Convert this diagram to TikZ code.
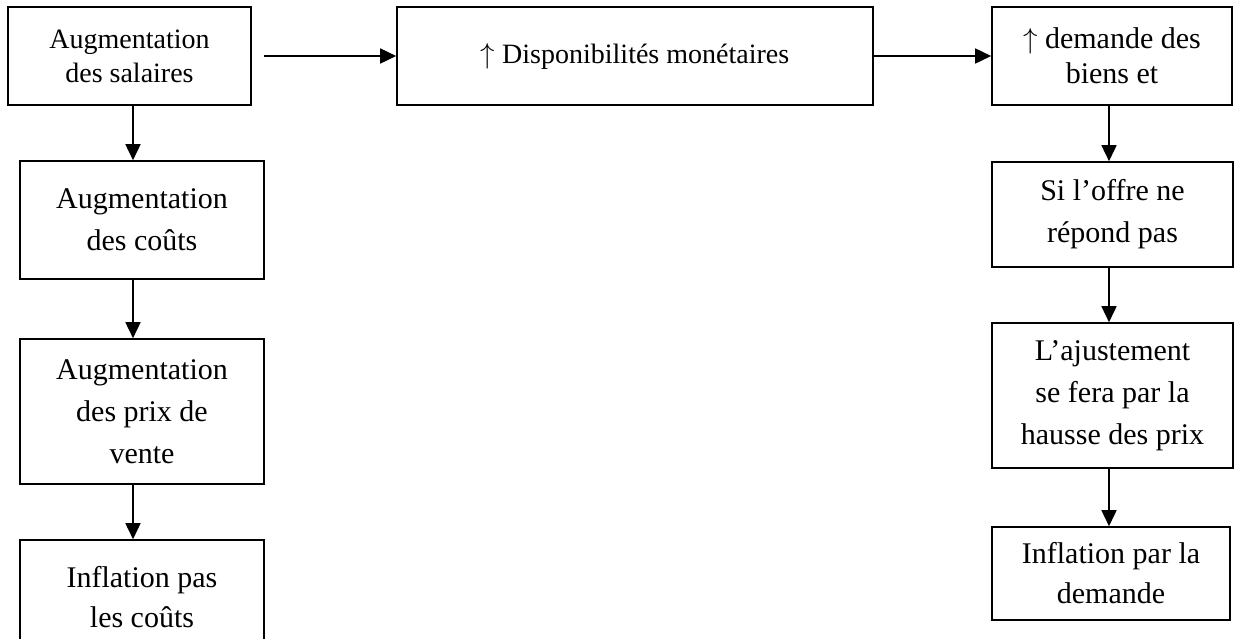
\documentclass[tikz,border=0pt]{standalone}
\usepackage{fontspec}
\setmainfont{Liberation Serif}
\usetikzlibrary{arrows.meta}

\begin{document}
\begin{tikzpicture}[x=0.5pt, y=-0.5pt,
    box/.style = {draw, line width=0.8pt, inner sep=0pt, align=center,
      font=\fontsize{15}{21}\selectfont},
    smallbox/.style = {box, font=\fontsize{14}{17}\selectfont},
    flow/.style = {line width=0.8pt, -{Triangle[length=8pt,width=7.5pt]}}]
  \useasboundingbox (0,0) rectangle (1235,638);
  \clip (0,0) rectangle (1235,638);
  % top row
  \node [smallbox, minimum width=121.5pt, minimum height=49pt] (salaires)
    at (129.5,56) {Augmentation\\des salaires};
  \node [smallbox, minimum width=238pt, minimum height=49pt] (dispo)
    at (635,56) {$\uparrow$ Disponibilités monétaires};
  \node [box, font=\fontsize{15}{17.5}\selectfont,
    minimum width=120pt, minimum height=49pt] (demande)
    at (1112,56) {$\uparrow$ demande des\\biens et};
  % left column
  \node [box, minimum width=122pt, minimum height=59pt] (couts)
    at (142,220) {Augmentation\\des coûts};
  \node [box, minimum width=122pt, minimum height=72.5pt] (prix)
    at (142,411.5) {Augmentation\\des prix de\\vente};
  \node [box, font=\fontsize{15}{20}\selectfont,
    minimum width=122pt, minimum height=57pt] (inflcouts)
    at (142,597) {Inflation pas\\les coûts};
  % right column
  \node [box, minimum width=120.5pt, minimum height=52.5pt] (offre)
    at (1112.5,214.5) {Si l’offre ne\\répond pas};
  \node [box, minimum width=120.5pt, minimum height=72.5pt] (ajust)
    at (1112.5,395.5) {L’ajustement\\se fera par la\\hausse des prix};
  \node [box, font=\fontsize{15}{20}\selectfont,
    minimum width=119pt, minimum height=46.5pt] (infldemande)
    at (1111,573.5) {Inflation par la\\demande};

  \draw [flow] ([xshift=6pt]salaires.east) -- (dispo.west);
  \draw [flow] (dispo.east) -- (demande.west);
  \draw [flow] ([xshift=1.75pt]salaires.south) -- ([xshift=-4.5pt]couts.north);
  \draw [flow] ([xshift=-4.5pt]couts.south) -- ([xshift=-4.5pt]prix.north);
  \draw [flow] ([xshift=-4.5pt]prix.south) -- ([xshift=-4.5pt]inflcouts.north);
  \draw [flow] ([xshift=-1.5pt]demande.south) -- ([xshift=-1.75pt]offre.north);
  \draw [flow] ([xshift=-1.75pt]offre.south) -- ([xshift=-1.75pt]ajust.north);
  \draw [flow] ([xshift=-1.75pt]ajust.south) -- ([xshift=-1pt]infldemande.north);
\end{tikzpicture}
\end{document}
